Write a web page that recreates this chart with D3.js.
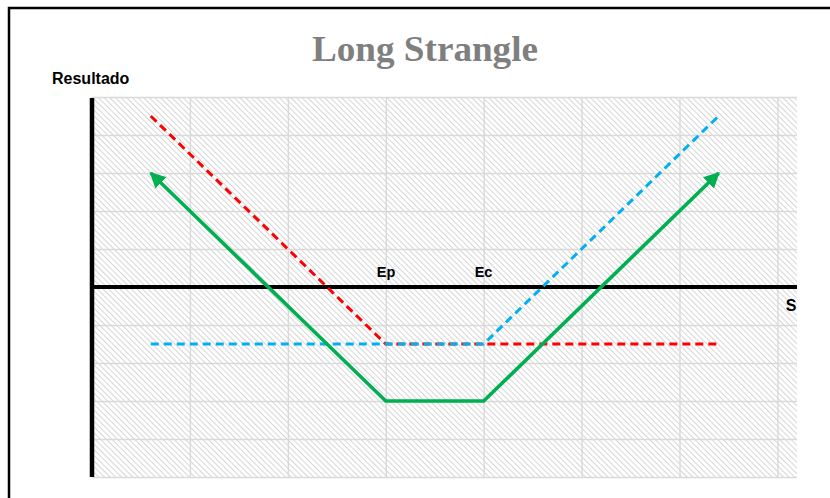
<!DOCTYPE html>
<html>
<head>
<meta charset="utf-8">
<script src="https://cdn.jsdelivr.net/npm/d3@7"></script>
<style>
  html, body { margin: 0; padding: 0; background: #fff; }
  svg { display: block; }
</style>
</head>
<body>
<script>
// Payoff diagram of a long strangle: long put (strike Ep) + long call (strike Ec)
const xTicks = [0, 1, 2, 3, 4, 5, 6, 7];
const yTicks = [-5, -4, -3, -2, -1, 0, 1, 2, 3, 4, 5];
const strikeLabels = ["Ep", "Ec"];
const strikeValues = [3, 4];

const putX = [0.6, 3, 6.4];
const putY = [4.5, -1.5, -1.5];
const callX = [0.6, 4, 6.4];
const callY = [-1.5, -1.5, 4.5];
const strangleX = [0.6, 3, 4, 6.4];
const strangleY = [3, -3, -3, 3];

const W = 830, H = 498;
const svg = d3.select("body").append("svg").attr("width", W).attr("height", H);

const x = d3.scaleLinear().domain([0, 7.2]).range([92, 797]);
const y = d3.scaleLinear().domain([-5, 5]).range([477, 97]);

const defs = svg.append("defs");
const pat = defs.append("pattern")
  .attr("id", "hatch")
  .attr("patternUnits", "userSpaceOnUse")
  .attr("width", 4).attr("height", 4)
  .attr("patternTransform", "rotate(-45)");
pat.append("rect").attr("width", 4).attr("height", 4).attr("fill", "#fff");
pat.append("line").attr("x1", 0).attr("y1", 0).attr("x2", 0).attr("y2", 4)
  .attr("stroke", "#cfcfcf").attr("stroke-width", 1.7);

defs.append("marker")
  .attr("id", "arrow")
  .attr("viewBox", "0 0 10 10")
  .attr("refX", 9).attr("refY", 5)
  .attr("markerWidth", 4.4).attr("markerHeight", 4.4)
  .attr("orient", "auto-start-reverse")
  .append("path").attr("d", "M0,0 L10,5 L0,10 Z").attr("fill", "#00b050");

// outer frame
svg.append("rect").attr("x", 9).attr("y", 8).attr("width", W + 20).attr("height", H + 20)
  .attr("fill", "#fff").attr("stroke", "#000").attr("stroke-width", 2.5);

// plot background
svg.append("rect")
  .attr("x", x(0)).attr("y", y(5))
  .attr("width", x(7.2) - x(0)).attr("height", y(-5) - y(5))
  .attr("fill", "url(#hatch)");

// gridlines
svg.append("g")
  .attr("transform", `translate(0,${y(-5)})`)
  .call(d3.axisBottom(x).tickValues(xTicks).tickSize(-(y(-5) - y(5))).tickFormat(""))
  .call(g => g.select(".domain").remove())
  .call(g => g.selectAll("line").attr("stroke", "#d9d9d9").attr("stroke-width", 1.4));
svg.append("g")
  .attr("transform", `translate(${x(0)},0)`)
  .call(d3.axisLeft(y).tickValues(yTicks).tickSize(-(x(7.2) - x(0))).tickFormat(""))
  .call(g => g.select(".domain").remove())
  .call(g => g.selectAll("line").attr("stroke", "#d9d9d9").attr("stroke-width", 1.4));

// axes
svg.append("line").attr("x1", x(0)).attr("x2", x(7.2)).attr("y1", y(0)).attr("y2", y(0))
  .attr("stroke", "#000").attr("stroke-width", 4);
svg.append("line").attr("x1", x(0)).attr("x2", x(0)).attr("y1", y(5) + 1).attr("y2", y(-5))
  .attr("stroke", "#000").attr("stroke-width", 4.5);

const line = d3.line().x(d => x(d[0])).y(d => y(d[1]));

svg.append("path")
  .datum(d3.zip(putX, putY))
  .attr("d", line).attr("fill", "none")
  .attr("stroke", "#ff0000").attr("stroke-width", 3).attr("stroke-dasharray", "8,5");

svg.append("path")
  .datum(d3.zip(callX, callY))
  .attr("d", line).attr("fill", "none")
  .attr("stroke", "#00b0f0").attr("stroke-width", 3).attr("stroke-dasharray", "8,5");

svg.append("path")
  .datum(d3.zip(strangleX, strangleY))
  .attr("d", line).attr("fill", "none")
  .attr("stroke", "#00b050").attr("stroke-width", 3.6)
  .attr("stroke-linejoin", "miter")
  .attr("marker-start", "url(#arrow)")
  .attr("marker-end", "url(#arrow)");

// title and labels
svg.append("text")
  .attr("x", 425).attr("y", 61)
  .attr("text-anchor", "middle")
  .attr("font-family", "'Liberation Serif', serif")
  .attr("font-weight", "bold").attr("font-size", 36)
  .attr("fill", "#7f7f7f")
  .attr("textLength", 226).attr("lengthAdjust", "spacingAndGlyphs")
  .text("Long Strangle");

svg.append("text")
  .attr("x", 52).attr("y", 84)
  .attr("font-family", "'Liberation Sans', Arial, sans-serif")
  .attr("font-weight", "bold").attr("font-size", 16)
  .attr("fill", "#000")
  .text("Resultado");

svg.selectAll(".strike")
  .data(strikeValues)
  .join("text")
  .attr("class", "strike")
  .attr("x", d => x(d) - 9)
  .attr("y", y(0) - 10)
  .attr("font-family", "'Liberation Sans', Arial, sans-serif")
  .attr("font-weight", "bold").attr("font-size", 14.5)
  .attr("fill", "#000")
  .text((d, i) => strikeLabels[i]);

svg.append("text")
  .attr("x", 791).attr("y", 311)
  .attr("text-anchor", "middle")
  .attr("font-family", "'Liberation Sans', Arial, sans-serif")
  .attr("font-weight", "bold").attr("font-size", 16)
  .attr("fill", "#000")
  .text("S");
</script>
</body>
</html>
